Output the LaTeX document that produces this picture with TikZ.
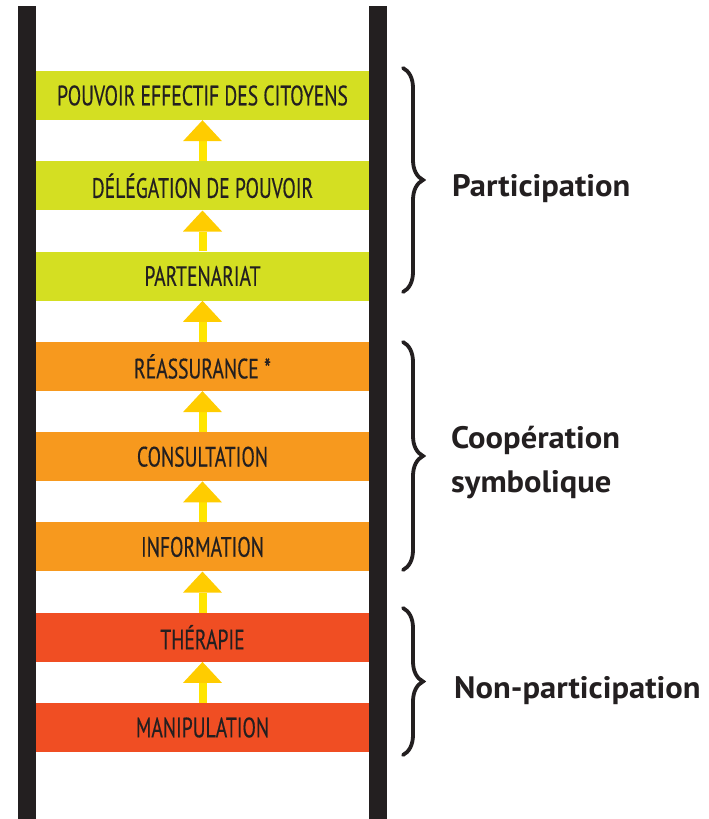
\documentclass[tikz,border=0pt]{standalone}
\usepackage{fontspec}
\setmainfont{PT Sans}
\newfontfamily\rungfont[FakeStretch=0.7,FakeBold=0.4]{PT Sans}
\newfontfamily\groupfont[FakeStretch=1.05]{PT Sans}
\usetikzlibrary{arrows.meta,decorations.pathreplacing}

\definecolor{railgray}{HTML}{231F20}
\definecolor{inkdark}{HTML}{231F20}
\definecolor{rungreen}{HTML}{D4DF22}
\definecolor{rungorange}{HTML}{F7991E}
\definecolor{rungred}{HTML}{F04E23}
\definecolor{shaftyellow}{HTML}{FFE500}
\definecolor{headyellow}{HTML}{FFCC00}

\tikzset{
  rung/.style={minimum width=333pt, minimum height=49pt, inner sep=0pt,
    text=inkdark, font=\rungfont\fontsize{28}{32}\selectfont},
  rail/.style={fill=railgray},
  rungarrow/.style={draw=shaftyellow, line width=8pt,
    -{Triangle[width=39pt,length=21pt,line width=0pt,fill=headyellow,color=headyellow]}},
  groupbrace/.style={draw=inkdark, line width=3.8pt, line cap=round,
    decorate, decoration={brace, amplitude=20pt}},
  grouplabel/.style={anchor=base west, inner sep=0pt, text=inkdark,
    font=\groupfont\bfseries\fontsize{31}{44}\selectfont, align=left},
}

\begin{document}
\begin{tikzpicture}[x=1pt,y=-1pt]
  \useasboundingbox (0,0) rectangle (709,819);

  % ladder rails
  \fill[rail] (18,6) rectangle (36,819);
  \fill[rail] (369,6) rectangle (387,819);

  % rungs, from top to bottom
  \node[rung, fill=rungreen]  (r8) at (202.5,95.5)  {POUVOIR EFFECTIF DES CITOYENS};
  \node[rung, fill=rungreen]  (r7) at (202.5,185.8) {DÉLÉGATION DE POUVOIR};
  \node[rung, fill=rungreen]  (r6) at (202.5,276.1) {PARTENARIAT};
  \node[rung, fill=rungorange] (r5) at (202.5,366.4) {RÉASSURANCE *};
  \node[rung, fill=rungorange] (r4) at (202.5,456.7) {CONSULTATION};
  \node[rung, fill=rungorange] (r3) at (202.5,546.9) {INFORMATION};
  \node[rung, fill=rungred]   (r2) at (202.5,637.2) {THÉRAPIE};
  \node[rung, fill=rungred]   (r1) at (202.5,727.5) {MANIPULATION};

  % upward arrows between rungs
  \foreach \lo/\hi in {r1/r2,r2/r3,r3/r4,r4/r5,r5/r6,r6/r7,r7/r8}
    \draw[rungarrow] (\lo.north) -- (\hi.south);

  % group braces
  \coordinate (p1) at (403,68);  \coordinate (p2) at (403,292);
  \coordinate (c1) at (403,342); \coordinate (c2) at (403,570);
  \coordinate (n1) at (403,608); \coordinate (n2) at (403,755);
  \draw[groupbrace] (p1) -- (p2);
  \draw[groupbrace] (c1) -- (c2);
  \draw[groupbrace] (n1) -- (n2);

  % group labels
  \node[grouplabel] (lp) at (452,196) {Participation};
  \node[grouplabel] (lc) at (451,492) {Coopération\\symbolique};
  \node[grouplabel] (ln) at (454,698) {Non-participation};
\end{tikzpicture}
\end{document}
